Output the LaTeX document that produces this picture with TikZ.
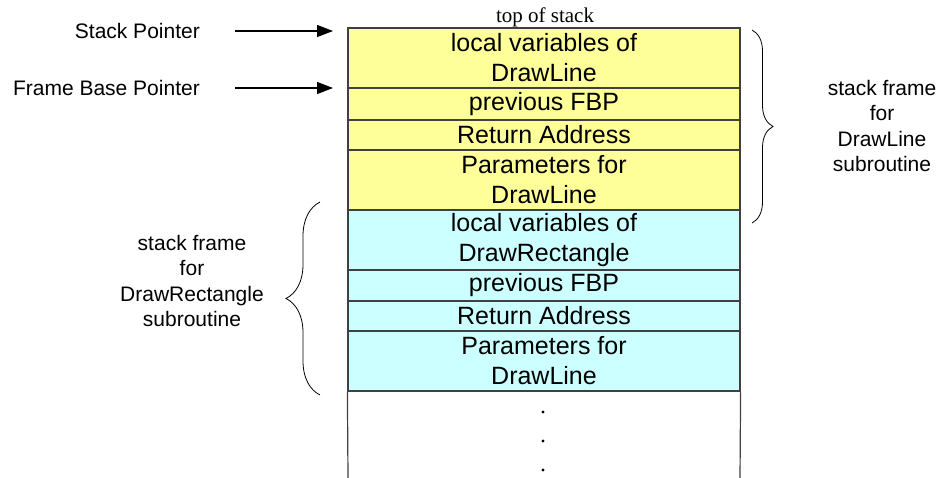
\documentclass[tikz,border=0pt]{standalone}
\usepackage{fontspec}
\setmainfont{Liberation Sans}
\newfontfamily\topfont{Liberation Serif}
\usepackage{tikz}
\usetikzlibrary{positioning,arrows.meta,decorations.pathreplacing}

\definecolor{frameyellow}{RGB}{255,255,153}
\definecolor{framecyan}{RGB}{204,255,255}

\begin{document}
\begin{tikzpicture}[x=1pt,y=-1pt,
	cell/.style={rectangle,draw=black!75,line width=1.2pt,minimum width=392pt,inner sep=0pt,align=center,font=\fontsize{25}{30}\selectfont},
	label/.style={align=center,inner sep=0pt,font=\fontsize{21}{25.3}\selectfont},
	pointer/.style={line width=1.3pt,-{Triangle[length=16pt,width=12pt]}},
	framebrace/.style={decorate,decoration={brace},line width=0.8pt}]

		\useasboundingbox (0,0) rectangle (952,478);

		%caller frame
		\node[cell,fill=frameyellow,minimum height=60pt] (r1) at (544,58) {local variables of\\DrawLine};
		\node[cell,fill=frameyellow,minimum height=32pt] (r2) at (544,104) {previous FBP};
		\node[cell,fill=frameyellow,minimum height=30pt] (r3) at (544,135) {Return Address};
		\node[cell,fill=frameyellow,minimum height=60pt] (r4) at (544,180) {Parameters for\\DrawLine};

		%callee frame
		\node[cell,fill=framecyan,minimum height=60pt] (r5) at (544,240) {local variables of\\DrawRectangle};
		\node[cell,fill=framecyan,minimum height=31pt] (r6) at (544,285.5) {previous FBP};
		\node[cell,fill=framecyan,minimum height=30pt] (r7) at (544,316) {Return Address};
		\node[cell,fill=framecyan,minimum height=60pt] (r8) at (544,361) {Parameters for\\DrawLine};

		%rest of stack
		\coordinate (b1) at (348,478);
		\coordinate (b2) at (740,478);
		\draw[draw=black!75,line width=1.2pt] (r8.south west) -- (b1);
		\draw[draw=black!75,line width=1.2pt] (r8.south east) -- (b2);
		\fill (543,412) circle (1.6pt);
		\fill (543,441) circle (1.6pt);
		\fill (543,470) circle (1.6pt);

		\node[inner sep=0pt,font=\topfont\fontsize{21}{24}\selectfont] (top) at (545,17) {top of stack};

		%pointers
		\node[label,anchor=east] (sp) at (200,31) {Stack Pointer};
		\node[label,anchor=east] (fbp) at (200,88) {Frame Base Pointer};
		\coordinate (sp0) at (235,31);
		\coordinate (sp1) at (333,31);
		\coordinate (fbp0) at (235,88);
		\coordinate (fbp1) at (333,88);
		\draw[pointer] (sp0) -- (sp1);
		\draw[pointer] (fbp0) -- (fbp1);

		%braces
		\coordinate (rb0) at (752,30);
		\coordinate (rb1) at (752,223);
		\coordinate (lb0) at (320,395);
		\coordinate (lb1) at (320,202);
		\draw[framebrace,decoration={amplitude=21pt}] (rb0) -- (rb1);
		\draw[framebrace,decoration={amplitude=34pt}] (lb0) -- (lb1);
		\node[label] (rl) at (882,126) {stack frame\\for\\DrawLine\\subroutine};
		\node[label] (ll) at (192,281) {stack frame\\for\\DrawRectangle\\subroutine};

		\end{tikzpicture}
\end{document}
